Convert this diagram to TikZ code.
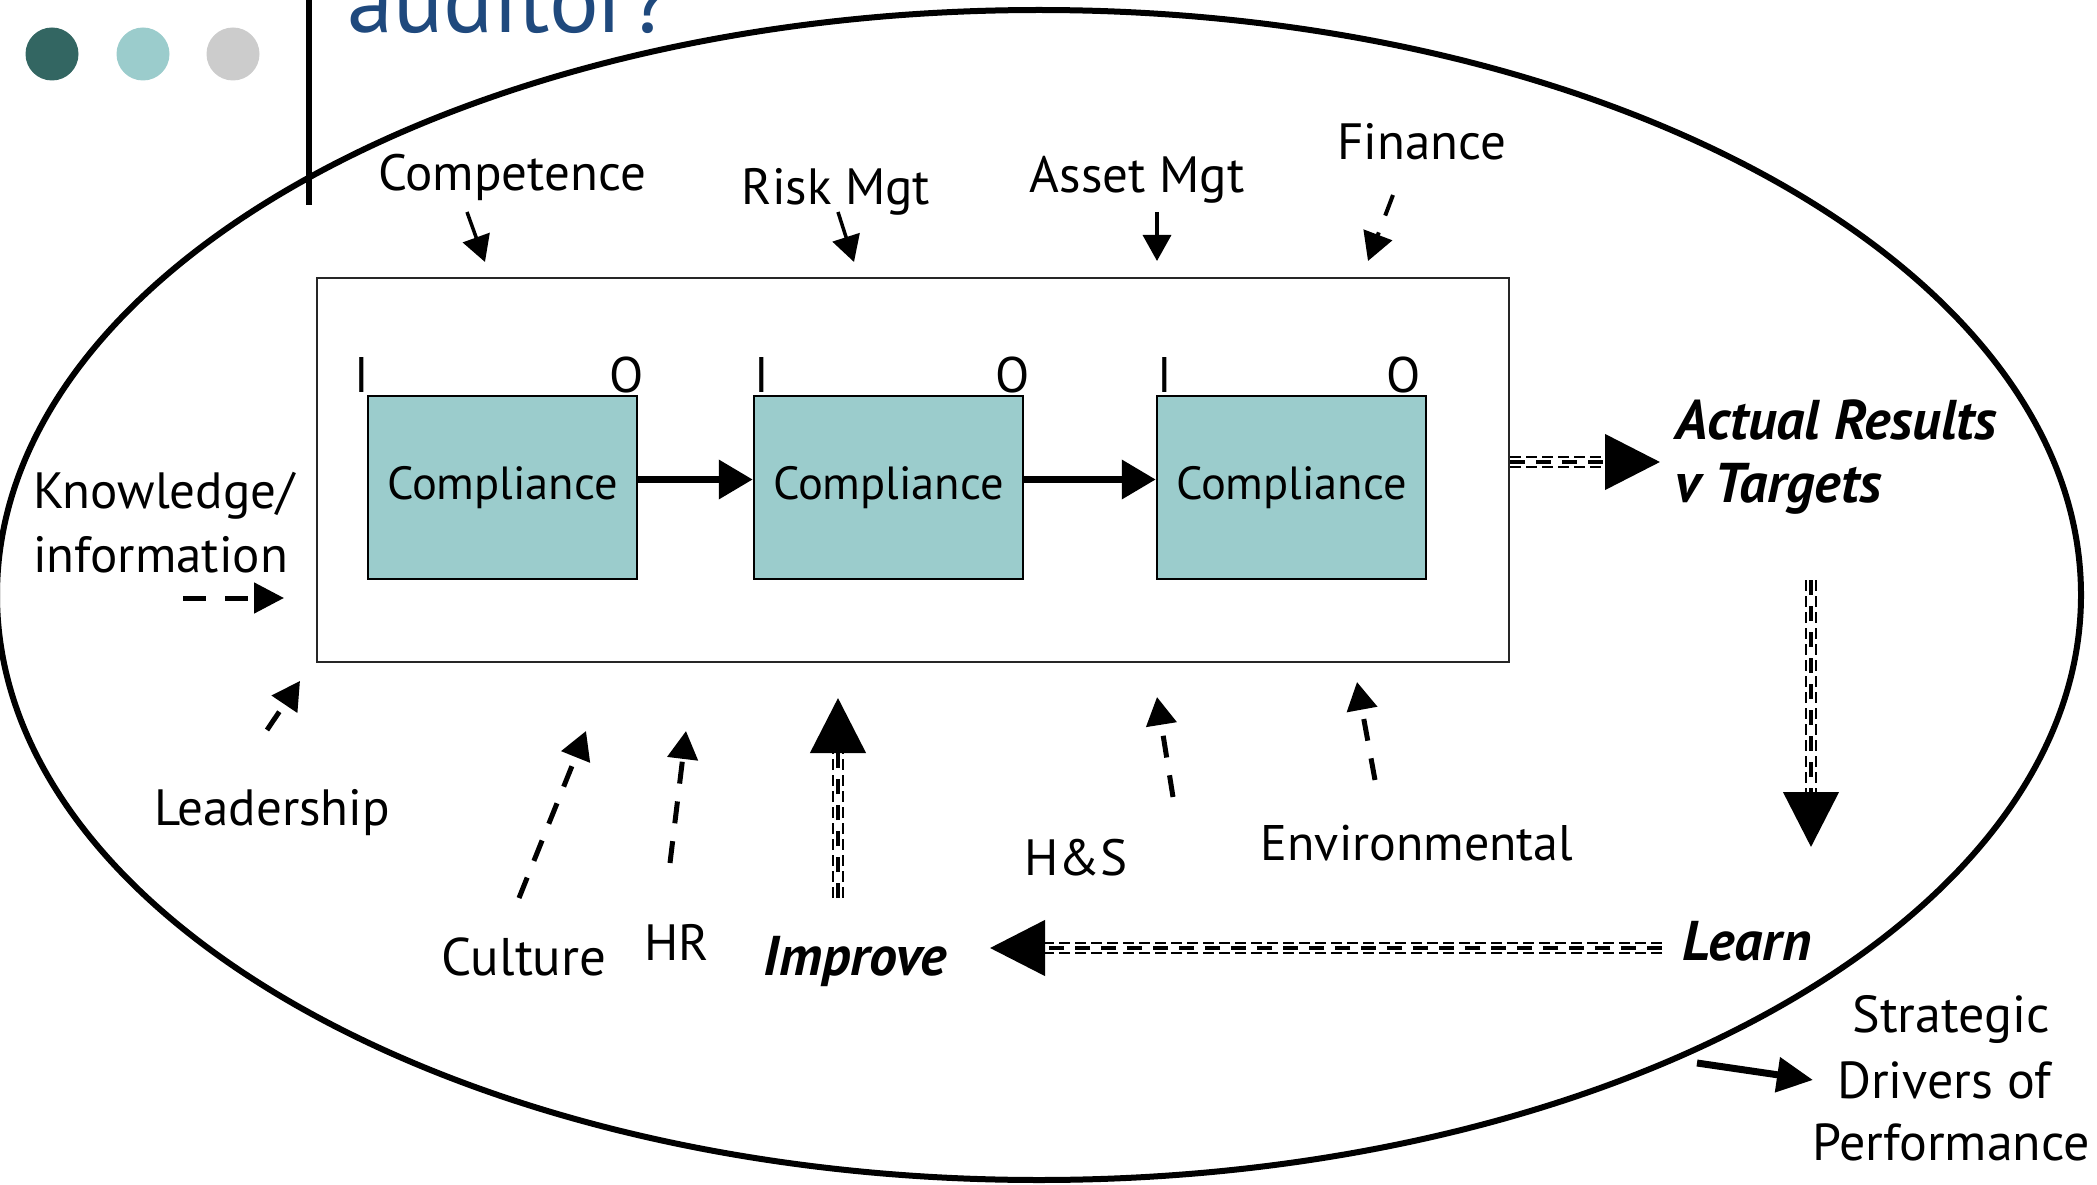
\documentclass[tikz,border=0pt]{standalone}
\usepackage{fontspec}
\setmainfont{PT Sans}
\usetikzlibrary{arrows.meta}
\definecolor{tealfill}{RGB}{155,204,204}
\definecolor{dotdark}{RGB}{51,102,98}
\definecolor{dotgray}{RGB}{204,204,204}
\definecolor{titleblue}{RGB}{31,73,125}
\tikzset{
  lbl/.style={inner sep=0pt, anchor=base, font=\fontsize{51pt}{60pt}\selectfont},
  lblw/.style={lbl, anchor=base west},
  bilbl/.style={inner sep=0pt, anchor=base, font=\fontsize{56pt}{64pt}\selectfont\bfseries\itshape},
  iolbl/.style={inner sep=0pt, anchor=base, font=\fontsize{50pt}{59pt}\selectfont},
  cbox/.style={draw=black, line width=2.5pt, fill=tealfill, minimum width=269pt, minimum height=183pt, inner sep=0pt, font=\fontsize{46.5pt}{54pt}\selectfont},
  mainbox/.style={draw=black!85, line width=2pt, minimum width=1192pt, minimum height=384pt, inner sep=0pt},
  connarr/.style={line width=7pt, -{Triangle[length=34pt,width=38pt]}},
  tharr/.style={line width=3.5pt, -{Triangle[length=26pt,width=28pt]}},
  dsharr/.style={line width=5pt, dash pattern=on 22pt off 18pt, -{Triangle[length=28pt,width=30pt]}},
  bigarr/.style={line width=7pt, -{Triangle[length=36pt,width=34pt]}},
  dblarr/.style={
    preaction={draw, arrows=-, line width=1.8pt, double=white, double distance=8.5pt,
               dash pattern=on 11pt off 5pt, shorten >=45pt},
    line width=4.5pt, dash pattern=on 15pt off 11pt,
    -{Triangle[length=55pt,width=55pt]}},
}
\begin{document}
\begin{tikzpicture}[x=1pt,y=-1pt]
\useasboundingbox (0,0) rectangle (2097,1185);
% header decoration
\fill[dotdark] (52,54) circle (26.5pt);
\fill[tealfill] (143,54) circle (26.5pt);
\fill[dotgray] (233,54) circle (26.5pt);
\draw[line width=6pt] (309,0) -- (309,205);
\node[inner sep=0pt, anchor=base west, text=titleblue, font=\fontsize{93pt}{100pt}\selectfont] (title) at (347,33) {auditor?};
% big ellipse
\draw[line width=6pt] (1039,595) ellipse [x radius=1042pt, y radius=585pt];
% main process box
\node[mainbox] (proc) at (913,470) {};
\node[cbox] (c1) at (502.5,487.5) {Compliance};
\node[cbox] (c2) at (888.5,487.5) {Compliance};
\node[cbox] (c3) at (1291.5,487.5) {Compliance};
\node[iolbl] (i1) at (362,392) {I};
\node[iolbl] (o1) at (627,392) {O};
\node[iolbl] (i2) at (762,392) {I};
\node[iolbl] (o2) at (1013,392) {O};
\node[iolbl] (i3) at (1165,392) {I};
\node[iolbl] (o3) at (1404,392) {O};
\draw[connarr] ([yshift=8pt]c1.east) -- ([yshift=8pt]c2.west);
\draw[connarr] ([yshift=8pt]c2.east) -- ([yshift=8pt]c3.west);
% top labels
\node[lbl] (comp) at (512,191) {Competence};
\node[lbl] (risk) at (836,205) {Risk Mgt};
\node[lbl] (asset) at (1137,193) {Asset Mgt};
\node[lbl] (fin) at (1422,160) {Finance};
\coordinate (compA) at (467,212); \coordinate (compB) at (485,262);
\coordinate (riskA) at (838,212); \coordinate (riskB) at (854,262);
\coordinate (assetA) at (1157,212); \coordinate (assetB) at (1157,261);
\coordinate (finA) at (1393,195); \coordinate (finB) at (1368,261);
\draw[tharr] (compA) -- (compB);
\draw[tharr] (riskA) -- (riskB);
\draw[tharr] (assetA) -- (assetB);
\draw[dsharr, line width=4pt] (finA) -- (finB);
% left labels
\node[lblw] (know1) at (33,508) {Knowledge/};
\node[lblw] (know2) at (33,572) {information};
\coordinate (knowA) at (183,598); \coordinate (knowB) at (284,598);
\draw[line width=5pt, dash pattern=on 23pt off 19pt, -{Triangle[length=30pt,width=30pt]}] (knowA) -- (knowB);
\node[lbl] (lead) at (272,825) {Leadership};
\coordinate (leadA) at (267,730); \coordinate (leadB) at (300,681);
\draw[dsharr] (leadA) -- (leadB);
% bottom labels
\node[lbl, font=\fontsize{53pt}{60pt}\selectfont] (cult) at (524,975) {Culture};
\node[lbl] (hr) at (677,960) {HR};
\node[bilbl] (impr) at (855,975) {Improve};
\node[lbl] (hs) at (1076,875) {H\&S};
\node[lbl, font=\fontsize{50pt}{60pt}\selectfont] (env) at (1417,860) {Environmental};
\coordinate (cultA) at (519,898); \coordinate (cultB) at (586,731);
\coordinate (hrA) at (670,863); \coordinate (hrB) at (686,731);
\coordinate (hsA) at (1173,797); \coordinate (hsB) at (1157,697);
\coordinate (envA) at (1375,780); \coordinate (envB) at (1357,682);
\draw[dsharr] (cultA) -- (cultB);
\draw[dsharr] (hrA) -- (hrB);
\draw[dsharr] (hsA) -- (hsB);
\draw[dsharr] (envA) -- (envB);
% results / learn loop
\node[bilbl, anchor=base west] (act1) at (1675,439) {Actual Results};
\node[bilbl, anchor=base west] (act2) at (1675,502) {v Targets};
\node[bilbl, anchor=base west] (learn) at (1682,960) {Learn};
\coordinate (outB) at (1660,462);
\coordinate (actA) at (1811,580); \coordinate (actB) at (1811,847);
\coordinate (learnA) at (1662,948); \coordinate (learnB) at (990,948);
\coordinate (imprA) at (838,898); \coordinate (imprB) at (838,698);
\draw[dblarr] ([yshift=8pt]proc.east) -- (outB);
\draw[dblarr] (actA) -- (actB);
\draw[dblarr] (learnA) -- (learnB);
\draw[dblarr] (imprA) -- (imprB);
% strategic drivers
\node[lbl, font=\fontsize{52pt}{60pt}\selectfont] (strat1) at (1951,1032) {Strategic};
\node[lbl, font=\fontsize{52pt}{60pt}\selectfont] (strat2) at (1944,1098) {Drivers of};
\node[lbl, font=\fontsize{52pt}{60pt}\selectfont] (strat3) at (1951,1160) {Performance};
\coordinate (stratA) at (1697,1063); \coordinate (stratB) at (1813,1080);
\draw[bigarr] (stratA) -- (stratB);
\end{tikzpicture}
\end{document}
